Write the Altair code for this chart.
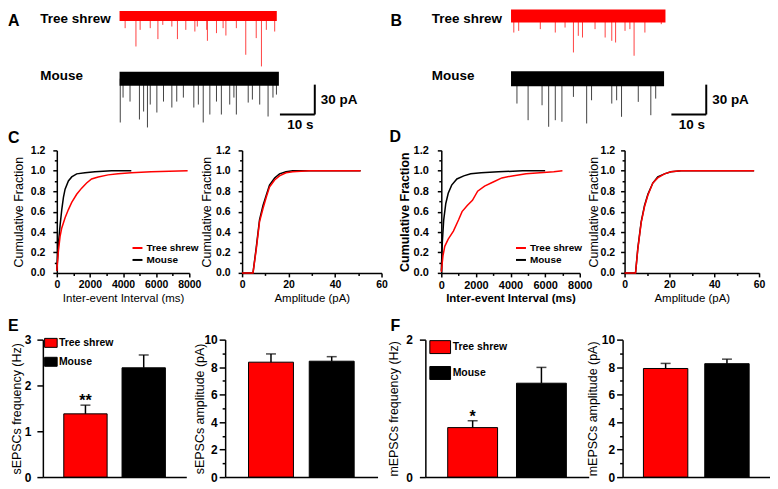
import altair as alt
import pandas as pd

SPECIES = ["Tree shrew", "Mouse"]
COLORS = ["#ff0000", "#000000"]
SANS = "Liberation Sans, Arial, sans-serif"

# ---------------- A / B : example traces ----------------
# event times (s) and amplitudes (pA, downward)
A_TS_T = [1.6, 4.7, 5.9, 8.8, 11.0, 12.4, 15.0, 16.6, 19.0, 21.6, 22.3, 25.0, 25.2, 27.8, 29.7, 30.5, 33.5, 36.2, 39.2, 40.7, 42.1, 44.5]
A_TS_AMP = [12.3, 30.7, 14.0, 12.3, 23.3, 9.0, 10.7, 23.3, 14.0, 15.7, 10.7, 14.0, 25.0, 17.3, 12.3, 19.7, 12.3, 39.0, 22.3, 50.7, 14.0, 15.7]
A_MS_T = [0.2, 1.0, 3.0, 5.7, 6.9, 8.0, 8.8, 10.7, 12.6, 15.0, 16.4, 18.3, 21.3, 22.6, 24.0, 25.9, 27.8, 29.2, 31.6, 32.8, 33.5, 36.9, 38.1, 40.2, 42.6, 44.0, 45.0]
A_MS_AMP = [44, 19, 23, 41, 33, 49, 26, 34, 23, 29, 23, 19, 29, 26, 44, 36, 23, 36, 26, 19, 36, 24, 21, 26, 38, 19, 16]
B_TS_T = [0.8, 2.2, 8.4, 12.7, 15.5, 17.9, 19.3, 20.5, 24.1, 27.0, 28.9, 30.0, 32.7, 34.1, 35.3, 38.4, 43.1]
B_TS_AMP = [16.7, 15.0, 13.3, 16.7, 11.7, 36.7, 20.0, 21.7, 13.3, 21.7, 25.0, 26.7, 15.0, 13.3, 40.0, 16.7, 8.3]
B_MS_T = [1.7, 4.9, 8.9, 10.8, 12.7, 14.6, 17.9, 21.7, 23.1, 28.9, 30.3, 31.7, 36.5, 40.1, 41.5]
B_MS_AMP = [25.0, 41.7, 26.7, 48.3, 41.7, 43.3, 18.3, 45.0, 21.7, 25.0, 21.7, 38.3, 23.3, 36.7, 20.0]
A_DURATION = [45.1, 45.7]
B_DURATION = [44.3, 43.9]
A_NOISE = [5.0, 7.0]
B_NOISE = [6.5, 7.5]
TRACE_BASELINE = [-1, -64]
TRACE_LABEL_LEVEL = [-4, -61]
SCALEBAR_TIME = 10
SCALEBAR_CURRENT = 30
SCALEBAR_END = 56
SCALEBAR_BOTTOM = -100

# ---------------- C / D : cumulative distributions ----------------
C_IEI_MS_X = [0, 100, 200, 300, 400, 500, 700, 900, 1200, 1700, 2300, 3300, 4500]
C_IEI_MS_Y = [0.02, 0.29, 0.47, 0.62, 0.74, 0.82, 0.90, 0.94, 0.97, 0.98, 0.99, 1.0, 1.0]
C_IEI_TS_X = [0, 100, 200, 300, 500, 700, 900, 1200, 1500, 1800, 2100, 2500, 3100, 3700, 4500, 5700, 7900]
C_IEI_TS_Y = [0.02, 0.22, 0.36, 0.44, 0.54, 0.62, 0.69, 0.77, 0.83, 0.88, 0.92, 0.94, 0.96, 0.97, 0.98, 0.99, 1.0]
C_AMP_X = [0, 4.7, 6.1, 7.5, 9.0, 10.4, 11.8, 14.0, 16.1, 18.9, 21.8, 28.9, 51]
C_AMP_TS_Y = [0, 0, 0.23, 0.50, 0.63, 0.74, 0.84, 0.91, 0.95, 0.98, 0.99, 1.0, 1.0]
C_AMP_MS_Y = [0, 0, 0.25, 0.52, 0.66, 0.76, 0.86, 0.93, 0.97, 0.99, 1.0, 1.0, 1.0]
D_IEI_MS_X = [0, 60, 140, 260, 400, 600, 900, 1300, 1700, 2300, 3300, 4700, 6000]
D_IEI_MS_Y = [0.02, 0.30, 0.52, 0.68, 0.78, 0.86, 0.92, 0.95, 0.97, 0.98, 0.99, 1.0, 1.0]
D_IEI_TS_X = [0, 100, 200, 400, 700, 1000, 1200, 1500, 1800, 2100, 2500, 3000, 3500, 4100, 4900, 5700, 6500, 7000]
D_IEI_TS_Y = [0.01, 0.17, 0.26, 0.33, 0.41, 0.52, 0.60, 0.66, 0.71, 0.80, 0.85, 0.89, 0.93, 0.95, 0.97, 0.98, 0.99, 1.0]
D_AMP_X = [0, 4.9, 5.9, 7.4, 8.9, 10.4, 12.6, 14.8, 17.8, 20.7, 25.2, 57.8]
D_AMP_TS_Y = [0, 0, 0.23, 0.49, 0.65, 0.76, 0.88, 0.93, 0.97, 0.99, 1.0, 1.0]
D_AMP_MS_Y = [0, 0, 0.24, 0.50, 0.66, 0.77, 0.88, 0.94, 0.97, 0.99, 1.0, 1.0]

# ---------------- E / F : bar graphs (mean, SEM) ----------------
E_FREQ_MEAN = [1.38, 2.385]
E_FREQ_SEM = [0.19, 0.28]
E_FREQ_STARS = ["**", ""]
E_AMP_MEAN = [8.36, 8.43]
E_AMP_SEM = [0.60, 0.33]
F_FREQ_MEAN = [0.72, 1.366]
F_FREQ_SEM = [0.10, 0.23]
F_FREQ_STARS = ["*", ""]
F_AMP_MEAN = [7.90, 8.25]
F_AMP_SEM = [0.37, 0.33]
NO_STARS = ["", ""]


def color_enc(legend=None):
    return alt.Color("sp:N", scale=alt.Scale(domain=SPECIES, range=COLORS), legend=legend)


def major_test(step):
    return f"abs(datum.value / {step} - round(datum.value / {step})) < 0.001"


def letter_title(text, dx, dy):
    return alt.Title(text, anchor="start", frame="group", dx=dx, dy=dy, baseline="top",
                     offset=0, fontSize=16, fontWeight="bold", font=SANS, color="black")


def trace_panel(ts_t, ts_amp, ms_t, ms_amp, duration, noise, t_min, width, axis_offset, letter, ldx):
    band_rows, spike_rows = [], []
    for i, (tt, aa) in enumerate([(ts_t, ts_amp), (ms_t, ms_amp)]):
        base = TRACE_BASELINE[i]
        for t in (0, duration[i]):
            band_rows.append({"t": t, "v": base + noise[i], "v2": base - noise[i], "sp": SPECIES[i]})
        for t, a in zip(tt, aa):
            spike_rows.append({"t": t, "v": base, "v2": base - a, "sp": SPECIES[i]})
    bar = pd.DataFrame({
        "t": [SCALEBAR_END - SCALEBAR_TIME, SCALEBAR_END],
        "t2": [SCALEBAR_END, SCALEBAR_END],
        "v": [SCALEBAR_BOTTOM, SCALEBAR_BOTTOM],
        "v2": [SCALEBAR_BOTTOM, SCALEBAR_BOTTOM + SCALEBAR_CURRENT],
    })
    txt_v = pd.DataFrame({"t": [SCALEBAR_END], "v": [SCALEBAR_BOTTOM + SCALEBAR_CURRENT / 2],
                          "label": [f"{SCALEBAR_CURRENT} pA"]})
    txt_h = pd.DataFrame({"t": [SCALEBAR_END - SCALEBAR_TIME / 2], "v": [SCALEBAR_BOTTOM],
                          "label": [f"{SCALEBAR_TIME} s"]})
    xs = alt.Scale(domain=[t_min, SCALEBAR_END], nice=False, zero=False)
    ys = alt.Scale(domain=[-120, 6], nice=False, zero=False)
    yax = alt.Axis(values=TRACE_LABEL_LEVEL,
                   labelExpr=f"datum.value > -30 ? '{SPECIES[0]}' : '{SPECIES[1]}'",
                   domain=False, ticks=False, tickSize=0, grid=False, title=None,
                   labelFont=SANS, labelFontSize=13.5, labelFontWeight="bold",
                   labelAlign="left", labelPadding=80, offset=axis_offset, labelOverlap=False)
    X = alt.X("t:Q", scale=xs, axis=None)
    Y = alt.Y("v:Q", scale=ys, axis=yax)
    band = alt.Chart(pd.DataFrame(band_rows)).mark_area(opacity=1).encode(
        x=X, y=Y, y2="v2:Q", color=color_enc())
    spikes = alt.Chart(pd.DataFrame(spike_rows)).mark_rule(strokeWidth=1, opacity=0.75).encode(
        x=X, y=Y, y2="v2:Q", color=color_enc())
    sbar = alt.Chart(bar).mark_rule(strokeWidth=2, color="black").encode(
        x=X, x2="t2:Q", y=Y, y2="v2:Q")
    t1 = alt.Chart(txt_v).mark_text(align="left", baseline="middle", dx=6, font=SANS,
                                    fontSize=13.5, fontWeight="bold", color="black").encode(
        x=X, y=Y, text="label:N")
    t2 = alt.Chart(txt_h).mark_text(align="center", baseline="top", dy=4, dx=3, font=SANS,
                                    fontSize=13.5, fontWeight="bold", color="black").encode(
        x=X, y=Y, text="label:N")
    return alt.layer(band, spikes, sbar, t1, t2).properties(
        width=width, height=126, title=letter_title(letter, ldx, 20))


def cdf_panel(curves, xmax, xmajor, xminor, width, xtitle, legend, bold, ytp, ylp,
              letter=None, ldx=0):
    rows = []
    for sp, xs, ys in curves:
        for x, y in zip(xs, ys):
            rows.append({"x": x, "y": y, "sp": sp})
    df = pd.DataFrame(rows)
    fw = "bold" if bold else "normal"
    lfs = 11 if bold else 10.5
    xax = alt.Axis(values=list(range(0, xmax + 1, xminor)),
                   labelExpr=f"{major_test(xmajor)} ? datum.label : ''", format="d",
                   tickSize={"condition": {"test": major_test(xmajor), "value": 4}, "value": 2.5},
                   labelFlush=False, labelOverlap=False, labelPadding=3,
                   title=xtitle, titleFontSize=11.5, titlePadding=2, titleFontWeight=fw,
                   labelFontSize=lfs)
    yvals = [round(0.1 * i, 1) for i in range(13)]
    yax = alt.Axis(values=yvals, format=".1f",
                   labelExpr=f"{major_test(0.2)} ? datum.label : ''",
                   tickSize={"condition": {"test": major_test(0.2), "value": 4}, "value": 2.5},
                   labelOverlap=False, labelPadding=ylp,
                   title="Cumulative Fraction", titleFontSize=12.5,
                   titleFontWeight=fw, titlePadding=ytp, labelFontSize=lfs)
    ch = alt.Chart(df).mark_line(strokeWidth=1.5).encode(
        x=alt.X("x:Q", scale=alt.Scale(domain=[0, xmax], nice=False), axis=xax),
        y=alt.Y("y:Q", scale=alt.Scale(domain=[0, 1.2], nice=False), axis=yax),
        color=color_enc(legend),
    )
    props = dict(width=width, height=123)
    if letter:
        props["title"] = letter_title(letter, ldx, 0.5)
    return ch.properties(**props)


def bar_panel(means, sems, stars, ymax, ymajor, yminor, width, ytitle, pin, pout,
              legend, ytp, ylp, letter=None, ldx=0):
    df = pd.DataFrame({"sp": SPECIES, "m": means, "top": [m + s for m, s in zip(means, sems)],
                       "star": stars})
    yvals = [round(yminor * i, 3) for i in range(int(round(ymax / yminor)) + 1)]
    yax = alt.Axis(values=yvals, format="d",
                   labelExpr=f"{major_test(ymajor)} ? datum.label : ''",
                   tickSize={"condition": {"test": major_test(ymajor), "value": 6}, "value": 3},
                   labelOverlap=False, labelPadding=ylp, labelFontSize=12,
                   title=ytitle, titleFontSize=12.5, titlePadding=ytp)
    X = alt.X("sp:N", scale=alt.Scale(domain=SPECIES, paddingInner=pin, paddingOuter=pout),
              axis=alt.Axis(labels=False, ticks=False, title=None, domain=True))
    ysc = alt.Scale(domain=[0, ymax], nice=False)
    Y = alt.Y("m:Q", scale=ysc, axis=yax)
    bars = alt.Chart(df).mark_bar(stroke="black", strokeWidth=1).encode(
        x=X, y=Y, color=color_enc(legend))
    err = alt.Chart(df).mark_rule(strokeWidth=1.5, color="black").encode(x=X, y=Y, y2="top:Q")
    cap = alt.Chart(df).mark_tick(size=10, thickness=1.5, color="black").encode(
        x=X, y=alt.Y("top:Q", scale=ysc, axis=yax))
    st = alt.Chart(df).mark_text(baseline="alphabetic", dy=1, fontSize=16, fontWeight="bold",
                                 font=SANS, color="black").encode(
        x=X, y=alt.Y("top:Q", scale=ysc, axis=yax), text="star:N")
    props = dict(width=width, height=138)
    if letter:
        props["title"] = letter_title(letter, ldx, 0)
    return alt.layer(bars, err, cap, st).properties(**props)


def line_legend(lx, ly):
    return alt.Legend(orient="none", legendX=lx, legendY=ly, title=None, symbolType="stroke",
                      symbolSize=100, symbolStrokeWidth=2, labelFont=SANS, labelFontSize=10,
                      labelFontWeight="bold", labelOffset=3, rowPadding=1, padding=0)


def box_legend(lx, ly, path, size, loff, rpad):
    return alt.Legend(orient="none", legendX=lx, legendY=ly, title=None, symbolType=path,
                      symbolSize=size, symbolStrokeColor="black", symbolStrokeWidth=1,
                      symbolOpacity=1, labelFont=SANS, labelFontSize=10.5,
                      labelFontWeight="bold", labelOffset=loff, rowPadding=rpad, padding=0)


def spacer(w, h):
    return alt.Chart(pd.DataFrame({"v": [0]})).mark_point(opacity=0, size=1).encode(
        x=alt.X("v:Q", axis=None), y=alt.Y("v:Q", axis=None)).properties(width=w, height=h)


# ---------------- panels ----------------
panel_a = trace_panel(A_TS_T, A_TS_AMP, A_MS_T, A_MS_AMP, A_DURATION, A_NOISE, -22, 273, -77, "A", -35)
panel_b = trace_panel(B_TS_T, B_TS_AMP, B_MS_T, B_MS_AMP, B_DURATION, B_NOISE, 0, 196, 0, "B", -121)

c1 = cdf_panel([(SPECIES[1], C_IEI_MS_X, C_IEI_MS_Y), (SPECIES[0], C_IEI_TS_X, C_IEI_TS_Y)],
               8000, 2000, 1000, 133, "Inter-event Interval (ms)", line_legend(75, 92), False,
               5, 8, "C", -49)
c2 = cdf_panel([(SPECIES[1], C_AMP_X, C_AMP_MS_Y), (SPECIES[0], C_AMP_X, C_AMP_TS_Y)],
               60, 20, 10, 140, "Amplitude (pA)", None, False, 2, 8)
d1 = cdf_panel([(SPECIES[1], D_IEI_MS_X, D_IEI_MS_Y), (SPECIES[0], D_IEI_TS_X, D_IEI_TS_Y)],
               8000, 2000, 1000, 139, "Inter-event Interval (ms)", line_legend(74, 92), True,
               2, 9, "D", -52)
d2 = cdf_panel([(SPECIES[1], D_AMP_X, D_AMP_MS_Y), (SPECIES[0], D_AMP_X, D_AMP_TS_Y)],
               60, 20, 10, 135, "Amplitude (pA)", None, False, 0, 6)

e1 = bar_panel(E_FREQ_MEAN, E_FREQ_SEM, E_FREQ_STARS, 3, 1, 0.5, 144, "sEPSCs frequency (Hz)",
               0.256, 0.359, box_legend(2.8, -2, "M-1.4,-1H1.4V1H-1.4Z", 81, 2.8, 5), 1, 6, "E", -35)
e2 = bar_panel(E_AMP_MEAN, E_AMP_SEM, NO_STARS, 10, 2, 1, 153, "sEPSCs amplitude (pA)",
               0.26, 0.385, None, -3, 2)
f1 = bar_panel(F_FREQ_MEAN, F_FREQ_SEM, F_FREQ_STARS, 2, 1, 0.5, 164, "mEPSCs frequency (Hz)",
               0.275, 0.325, box_legend(7.9, 0.5, "M-1.6,-1H1.6V1H-1.6Z", 169, 5.5, 8), 5, 7, "F", -35)
f2 = bar_panel(F_AMP_MEAN, F_AMP_SEM, NO_STARS, 10, 2, 1, 148, "mEPSCs amplitude (pA)",
               0.276, 0.34, None, 2, 2)


def hrow(*charts):
    return alt.hconcat(*charts, spacing=0, bounds="flush").resolve_scale(
        color="independent").resolve_legend(color="independent")


def vstack(*charts, spacing):
    return alt.vconcat(*charts, spacing=spacing).resolve_scale(
        color="independent").resolve_legend(color="independent")


row1 = hrow(panel_a, spacer(197, 10), panel_b)
row2 = hrow(spacer(14, 10), c1, spacer(53, 10), c2, spacer(60, 10), d1, spacer(45, 10), d2)
row3 = hrow(e1, spacer(39, 10), e2, spacer(48, 10), f1, spacer(34, 10), f2)

chart = vstack(row1, vstack(row2, row3, spacing=13), spacing=-6).properties(padding=0)

chart = chart.configure_view(stroke=None).configure_axis(
    grid=False, domainColor="black", tickColor="black", labelColor="black", titleColor="black",
    domainWidth=1.5, tickWidth=1.5, labelFont=SANS, titleFont=SANS, labelFontWeight="bold",
    titleFontWeight="normal",
).configure_legend(labelColor="black")

chart.save("out.html", embed_options={"renderer": "svg", "actions": False})
